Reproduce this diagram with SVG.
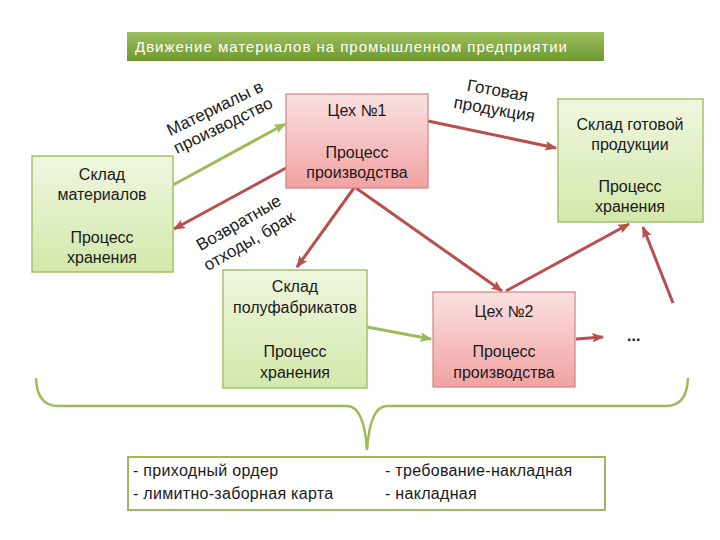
<svg xmlns="http://www.w3.org/2000/svg" width="720" height="540" viewBox="0 0 720 540">
<defs>
<linearGradient id="gTitle" x1="0" y1="0" x2="0" y2="1"><stop offset="0" stop-color="#9dc05e"/><stop offset="1" stop-color="#6f9830"/></linearGradient>
<linearGradient id="gGreen" x1="0" y1="0" x2="0" y2="1"><stop offset="0" stop-color="#eff7e0"/><stop offset="1" stop-color="#d3e8aa"/></linearGradient>
<linearGradient id="gRed" x1="0" y1="0" x2="0" y2="1"><stop offset="0" stop-color="#fbe1e1"/><stop offset="1" stop-color="#f1a2a2"/></linearGradient>
<marker id="ahR" viewBox="0 0 10 8" refX="9" refY="4" markerWidth="12" markerHeight="10" markerUnits="userSpaceOnUse" orient="auto"><path d="M0,0 L10,4 L0,8 L2,4 z" fill="#b94f4c"/></marker>
<marker id="ahG" viewBox="0 0 10 8" refX="9" refY="4" markerWidth="12" markerHeight="10" markerUnits="userSpaceOnUse" orient="auto"><path d="M0,0 L10,4 L0,8 L2,4 z" fill="#9bbb59"/></marker>
</defs>
<style>
text{font-family:"Liberation Sans",Arial,sans-serif;fill:#1a1a1a}
.t{font-size:16px;text-anchor:middle}
.lbl{font-size:17px;text-anchor:middle}
.gbox{fill:url(#gGreen);stroke:#a3c26a;stroke-width:1.5}
.rbox{fill:url(#gRed);stroke:#cf8482;stroke-width:1.2}
.ar{fill:none;stroke:#b94f4c;stroke-width:3;marker-end:url(#ahR)}
.ag{fill:none;stroke:#9bbb59;stroke-width:3;marker-end:url(#ahG)}
.doc{font-size:16px;letter-spacing:0.3px}
</style>
<g id="title">
<rect x="127" y="32" width="477" height="29" fill="url(#gTitle)"/>
<text x="135" y="52" font-size="15" style="fill:#ffffff" textLength="432" lengthAdjust="spacing">Движение материалов на промышленном предприятии</text>
</g>
<g id="connectors">
<path class="ag" d="M173,185 L285,124"/>
<path class="ar" d="M286,168 L174,229"/>
<path class="ar" d="M356,188 L502,291"/>
<path class="ar" d="M354,188 L297,267"/>
<path class="ar" d="M428,121 L556,148"/>
<path class="ar" d="M506,291 L629,224"/>
<path class="ar" d="M576,339 L603,337"/>
<path class="ar" d="M673,303 L643,227"/>
<path class="ag" d="M367,327 L431,339"/>
<path d="M36,378 Q37,406 58,406 L347,406 Q364,406 367,450 Q370,406 387,406 L666,406 Q687,406 688,378" fill="none" stroke="#9bbb59" stroke-width="2.5"/>
</g>
<g id="lbl-materials" transform="translate(219,117) rotate(-26)">
<text class="lbl" x="0" y="-4">Материалы в</text>
<text class="lbl" x="0" y="15">производство</text>
</g>
<g id="lbl-returns" transform="translate(244,232) rotate(-30)">
<text class="lbl" x="0" y="-5">Возвратные</text>
<text class="lbl" x="0" y="16">отходы, брак</text>
</g>
<g id="lbl-finished" transform="translate(496,100) rotate(10)">
<text class="lbl" x="0" y="-4">Готовая</text>
<text class="lbl" x="0" y="15">продукция</text>
</g>
<g id="sklad-materialov">
<rect class="gbox" x="32" y="156" width="141" height="116"/>
<text class="t" x="102" y="180">Склад</text>
<text class="t" x="102" y="200">материалов</text>
<text class="t" x="102" y="243">Процесс</text>
<text class="t" x="102" y="263">хранения</text>
</g>
<g id="ceh1">
<rect class="rbox" x="286" y="94" width="142" height="94"/>
<text class="t" x="357" y="116">Цех №1</text>
<text class="t" x="357" y="158">Процесс</text>
<text class="t" x="357" y="178">производства</text>
</g>
<g id="sklad-gotovoy">
<rect class="gbox" x="558" y="99" width="145" height="123"/>
<text class="t" x="630" y="130">Склад готовой</text>
<text class="t" x="630" y="150">продукции</text>
<text class="t" x="630" y="192">Процесс</text>
<text class="t" x="630" y="212">хранения</text>
</g>
<g id="sklad-polufabrikatov">
<rect class="gbox" x="223" y="270" width="144" height="118"/>
<text class="t" x="295" y="292">Склад</text>
<text class="t" x="295" y="313">полуфабрикатов</text>
<text class="t" x="295" y="357">Процесс</text>
<text class="t" x="295" y="378">хранения</text>
</g>
<g id="ceh2">
<rect class="rbox" x="433" y="292" width="142" height="95"/>
<text class="t" x="504" y="317">Цех №2</text>
<text class="t" x="504" y="357">Процесс</text>
<text class="t" x="504" y="378">производства</text>
</g>
<g id="more">
<text x="627" y="341" font-size="16" font-weight="bold">...</text>
</g>
<g id="documents">
<rect x="128" y="457" width="477" height="53" fill="#ffffff" stroke="#9bbb59" stroke-width="2"/>
<text class="doc" x="133" y="476">- приходный ордер</text>
<text class="doc" x="133" y="499">- лимитно-заборная карта</text>
<text class="doc" x="385" y="476">- требование-накладная</text>
<text class="doc" x="385" y="499">- накладная</text>
</g>
</svg>
